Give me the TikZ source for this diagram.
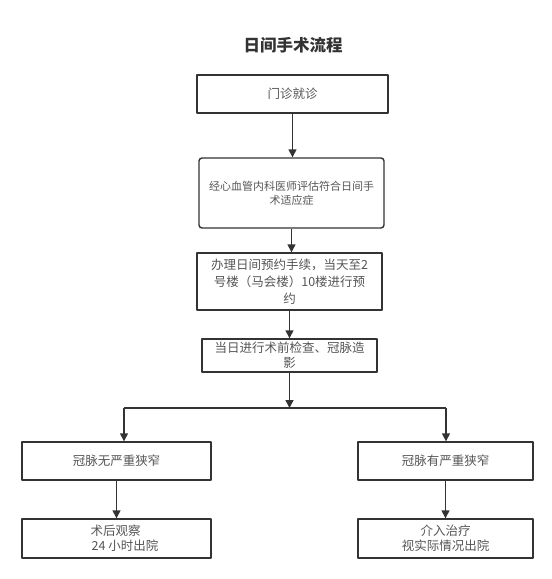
\documentclass[tikz,border=0pt]{standalone}
\usepackage{fontspec}
\setmainfont{Noto Sans CJK SC}
\usetikzlibrary{arrows.meta}
\definecolor{edge}{HTML}{333333}
\definecolor{txt}{HTML}{555555}
\begin{document}
\begin{tikzpicture}[x=1pt, y=-1pt, line join=round, >={Triangle[length=8pt,width=8pt]},
  box/.style={draw=edge, line width=1.4pt, text=txt, align=center, inner sep=0pt,
    font=\fontsize{12.5}{17}\selectfont},
  link/.style={draw=edge, line width=1.4pt}]
\useasboundingbox (0,0) rectangle (552,579);
\node[font=\fontsize{16.5}{20}\selectfont\bfseries, text=edge] (title) at (293,45) {日间手术流程};
\node[box, minimum width=191pt, minimum height=38pt] (visit) at (292.5,94) {门诊就诊};
\node[box, rounded corners=3pt, minimum width=185pt, minimum height=70pt,
  font=\fontsize{11}{14}\selectfont] (assess) at (291.5,193) {经心血管内科医师评估符合日间手\\术适应症};
\node[box, minimum width=185pt, minimum height=57pt] (book) at (289.5,281.5)
  {办理日间预约手续，当天至2\\号楼（马会楼）10楼进行预\\约};
\node[box, minimum width=175pt, minimum height=33pt, font=\fontsize{12.5}{15}\selectfont] (exam) at (289.5,355.5)
  {当日进行术前检查、冠脉造\\影};
\node[box, minimum width=189pt, minimum height=38pt] (mild) at (116.5,461) {冠脉无严重狭窄};
\node[box, minimum width=175pt, minimum height=38pt] (severe) at (445.5,461) {冠脉有严重狭窄};
\node[box, align=left, minimum width=189pt, minimum height=39pt, font=\fontsize{12.5}{15}\selectfont] (observe) at (116.5,538.5)
  {\hspace*{16pt}术后观察\\\hspace*{17pt}24 小时出院};
\node[box, minimum width=175pt, minimum height=39pt, font=\fontsize{12.5}{15}\selectfont] (treat) at (445.5,538.5)
  {介入治疗\\视实际情况出院};
% arrows
\draw[link,->] (visit.south) -- (visit.south |- assess.north);
\draw[link,->] (assess.south) -- (assess.south |- book.north);
\draw[link,->] (book.south) -- (book.south |- exam.north);
\coordinate (split) at (289.5,408);
\coordinate (left) at (124,408);
\coordinate (right) at (446,408);
\draw[link,->] (exam.south) -- (split);
\draw[link] (left) -- (right);
\draw[link,->] (left) -- (left |- mild.north);
\draw[link,->] (right) -- (right |- severe.north);
\draw[link,->] (mild.south) -- (observe.north);
\draw[link,->] (severe.south) -- (treat.north);
\end{tikzpicture}
\end{document}
